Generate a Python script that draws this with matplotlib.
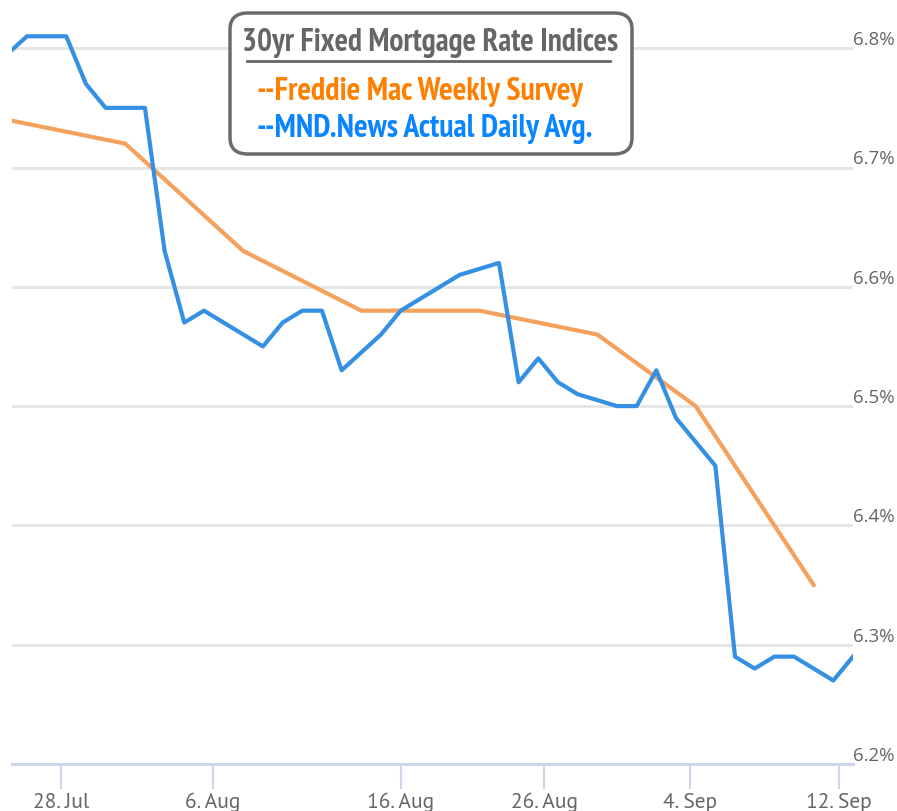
import matplotlib
matplotlib.use("Agg")
import matplotlib.pyplot as plt
from matplotlib.patches import FancyBboxPatch
from matplotlib.lines import Line2D

# x positions are slots on the ordinal (trading-day) axis used by the chart
blue_x = [-1, 1, 2, 3, 4, 5, 7, 8, 9, 10, 11, 13, 14, 15, 16, 17, 19, 20, 21, 22,
          23, 25, 26, 27, 28, 29, 31, 32, 33, 34, 36, 37, 38, 39, 40, 42, 43]
blue_rate = [6.78, 6.81, 6.81, 6.81, 6.77, 6.75, 6.75, 6.63, 6.57, 6.58, 6.57,
             6.55, 6.57, 6.58, 6.58, 6.53, 6.56, 6.58, 6.59, 6.60, 6.61, 6.62,
             6.52, 6.54, 6.52, 6.51, 6.50, 6.50, 6.53, 6.49, 6.45, 6.29, 6.28,
             6.29, 6.29, 6.27, 6.29]

freddie_x = [0, 6, 12, 18, 24, 30, 35, 41]
freddie_rate = [6.74, 6.72, 6.63, 6.58, 6.58, 6.56, 6.50, 6.35]

tick_pos = [2.73, 10.46, 20.0, 27.3, 34.7, 42.3]
tick_labels = ["28. Jul", "6. Aug", "16. Aug", "26. Aug", "4. Sep", "12. Sep"]
y_ticks = [6.2, 6.3, 6.4, 6.5, 6.6, 6.7, 6.8]

W, H = 897, 812
fig = plt.figure(figsize=(W / 100, H / 100), dpi=100)
ax = fig.add_axes([12 / W, (H - 765) / H, (853 - 12) / W, 765 / H])

ax.plot(freddie_x, freddie_rate, color="#f5a15e", lw=3, solid_joinstyle="round", zorder=3)
ax.plot(blue_x, blue_rate, color="#3590e3", lw=3, solid_joinstyle="round", zorder=4)

ax.set_xlim(0.24, 43.0)
ax.set_ylim(6.2, 6.2 + 765 / 1193)

ax.set_yticks(y_ticks)
ax.set_yticklabels([])
ax.grid(axis="y", color="#e6e6e6", lw=2.2)
ax.set_axisbelow(True)
for v in y_ticks:
    ax.text(1.0, v, f"{v:.1f}%", transform=ax.get_yaxis_transform(), ha="left",
            va="bottom", fontsize=13.5, color="#666666", family="Open Sans")

ax.set_xticks(tick_pos)
ax.set_xticklabels(tick_labels, fontsize=15.5, color="#666666", family="PT Sans")
ax.tick_params(axis="x", length=18, width=1.5, color="#ccd6eb", pad=2)
ax.tick_params(axis="y", length=0)

for s in ["top", "right", "left"]:
    ax.spines[s].set_visible(False)
ax.spines["bottom"].set_color("#ccd6eb")
ax.spines["bottom"].set_linewidth(2.2)

# legend box in the top middle
box = FancyBboxPatch((230 / W, 1 - 155 / H), (632 - 230) / W, (155 - 14) / H,
                     boxstyle="round,pad=0,rounding_size=0.02",
                     transform=fig.transFigure, fc="white", ec="#6b6b6b", lw=2.5,
                     zorder=10)
fig.patches.append(box)
fig.text(430 / W, 1 - 51 / H, "30yr Fixed Mortgage Rate Indices", ha="center",
         va="baseline", fontsize=22.7, fontweight="bold", color="#666666",
         family="PT Sans Narrow", zorder=11)
fig.lines.append(Line2D([247 / W, 610 / W], [1 - 62 / H, 1 - 62 / H],
                        transform=fig.transFigure, color="#666666", lw=2, zorder=11))
fig.text(257 / W, 1 - 100 / H, "--Freddie Mac Weekly Survey", ha="left",
         va="baseline", fontsize=23, fontweight="bold", color="#ff8000",
         family="PT Sans Narrow", zorder=11)
fig.text(257 / W, 1 - 137 / H, "--MND.News Actual Daily Avg.", ha="left",
         va="baseline", fontsize=23, fontweight="bold", color="#0a84ff",
         family="PT Sans Narrow", zorder=11)

fig.savefig("out.png", dpi=100)
